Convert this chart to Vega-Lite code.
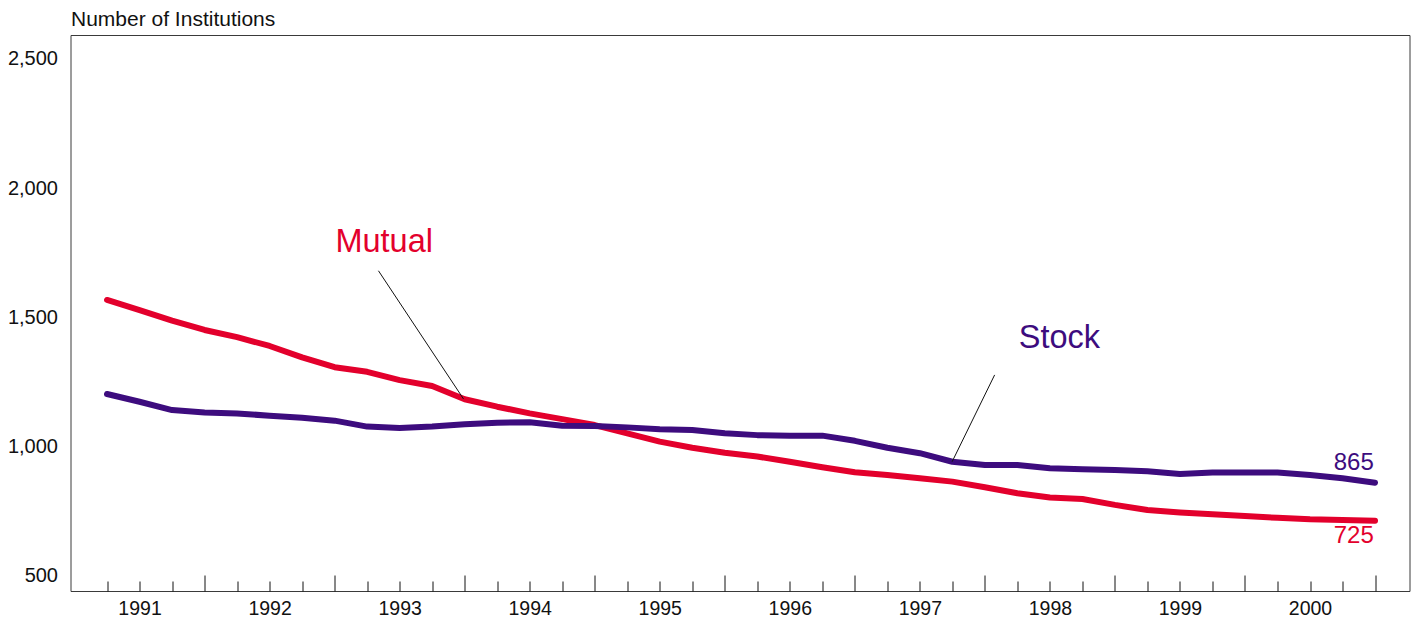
{
  "$schema": "https://vega.github.io/schema/vega-lite/v6.json",
  "width": 1339,
  "height": 556,
  "autosize": {"type": "none"},
  "padding": {"left": 70.5, "top": 35, "right": 4.5, "bottom": 27},
  "background": "white",
  "config": {
    "view": {"stroke": "#3a3a3a", "strokeWidth": 1},
    "font": "Liberation Sans",
    "axis": {"labelFont": "Liberation Sans", "titleFont": "Liberation Sans", "labelColor": "#111", "titleColor": "#111"}
  },
  "datasets": {
    "lines": [
      {"t": 1991.25, "series": "Mutual", "v": 1567}, {"t": 1991.5, "series": "Mutual", "v": 1528},
      {"t": 1991.75, "series": "Mutual", "v": 1487}, {"t": 1992, "series": "Mutual", "v": 1451},
      {"t": 1992.25, "series": "Mutual", "v": 1423}, {"t": 1992.5, "series": "Mutual", "v": 1389},
      {"t": 1992.75, "series": "Mutual", "v": 1345}, {"t": 1993, "series": "Mutual", "v": 1307},
      {"t": 1993.25, "series": "Mutual", "v": 1289}, {"t": 1993.5, "series": "Mutual", "v": 1257},
      {"t": 1993.75, "series": "Mutual", "v": 1234}, {"t": 1994, "series": "Mutual", "v": 1183},
      {"t": 1994.25, "series": "Mutual", "v": 1154}, {"t": 1994.5, "series": "Mutual", "v": 1128},
      {"t": 1994.75, "series": "Mutual", "v": 1106}, {"t": 1995, "series": "Mutual", "v": 1083},
      {"t": 1995.25, "series": "Mutual", "v": 1051}, {"t": 1995.5, "series": "Mutual", "v": 1019},
      {"t": 1995.75, "series": "Mutual", "v": 995}, {"t": 1996, "series": "Mutual", "v": 976},
      {"t": 1996.25, "series": "Mutual", "v": 961}, {"t": 1996.5, "series": "Mutual", "v": 941},
      {"t": 1996.75, "series": "Mutual", "v": 920}, {"t": 1997, "series": "Mutual", "v": 900},
      {"t": 1997.25, "series": "Mutual", "v": 890}, {"t": 1997.5, "series": "Mutual", "v": 877},
      {"t": 1997.75, "series": "Mutual", "v": 864}, {"t": 1998, "series": "Mutual", "v": 842},
      {"t": 1998.25, "series": "Mutual", "v": 819}, {"t": 1998.5, "series": "Mutual", "v": 803},
      {"t": 1998.75, "series": "Mutual", "v": 797}, {"t": 1999, "series": "Mutual", "v": 774},
      {"t": 1999.25, "series": "Mutual", "v": 754}, {"t": 1999.5, "series": "Mutual", "v": 745},
      {"t": 1999.75, "series": "Mutual", "v": 738}, {"t": 2000, "series": "Mutual", "v": 731},
      {"t": 2000.25, "series": "Mutual", "v": 724}, {"t": 2000.5, "series": "Mutual", "v": 718},
      {"t": 2000.75, "series": "Mutual", "v": 716}, {"t": 2001, "series": "Mutual", "v": 713},
      {"t": 1991.25, "series": "Stock", "v": 1203}, {"t": 1991.5, "series": "Stock", "v": 1173},
      {"t": 1991.75, "series": "Stock", "v": 1141}, {"t": 1992, "series": "Stock", "v": 1132},
      {"t": 1992.25, "series": "Stock", "v": 1128}, {"t": 1992.5, "series": "Stock", "v": 1119},
      {"t": 1992.75, "series": "Stock", "v": 1111}, {"t": 1993, "series": "Stock", "v": 1100},
      {"t": 1993.25, "series": "Stock", "v": 1077}, {"t": 1993.5, "series": "Stock", "v": 1072},
      {"t": 1993.75, "series": "Stock", "v": 1077}, {"t": 1994, "series": "Stock", "v": 1086},
      {"t": 1994.25, "series": "Stock", "v": 1092}, {"t": 1994.5, "series": "Stock", "v": 1094},
      {"t": 1994.75, "series": "Stock", "v": 1080}, {"t": 1995, "series": "Stock", "v": 1079},
      {"t": 1995.25, "series": "Stock", "v": 1074}, {"t": 1995.5, "series": "Stock", "v": 1067},
      {"t": 1995.75, "series": "Stock", "v": 1064}, {"t": 1996, "series": "Stock", "v": 1051},
      {"t": 1996.25, "series": "Stock", "v": 1044}, {"t": 1996.5, "series": "Stock", "v": 1042},
      {"t": 1996.75, "series": "Stock", "v": 1042}, {"t": 1997, "series": "Stock", "v": 1022},
      {"t": 1997.25, "series": "Stock", "v": 995}, {"t": 1997.5, "series": "Stock", "v": 974},
      {"t": 1997.75, "series": "Stock", "v": 941}, {"t": 1998, "series": "Stock", "v": 928},
      {"t": 1998.25, "series": "Stock", "v": 928}, {"t": 1998.5, "series": "Stock", "v": 916},
      {"t": 1998.75, "series": "Stock", "v": 912}, {"t": 1999, "series": "Stock", "v": 909},
      {"t": 1999.25, "series": "Stock", "v": 904}, {"t": 1999.5, "series": "Stock", "v": 894},
      {"t": 1999.75, "series": "Stock", "v": 899}, {"t": 2000, "series": "Stock", "v": 899},
      {"t": 2000.25, "series": "Stock", "v": 899}, {"t": 2000.5, "series": "Stock", "v": 890},
      {"t": 2000.75, "series": "Stock", "v": 877}, {"t": 2001, "series": "Stock", "v": 860}
    ],
    "leaders": [
      {"series": "Mutual", "t": 1993.337, "v": 1680, "t2": 1993.991, "v2": 1184},
      {"series": "Stock", "t": 1998.075, "v": 1277, "t2": 1997.748, "v2": 941}
    ],
    "names": [
      {"series": "Mutual", "label": "Mutual", "t": 1993.381, "v": 1754},
      {"series": "Stock", "label": "Stock", "t": 1998.573, "v": 1380}
    ],
    "ends": [
      {"series": "Stock", "label": "865", "t": 2000.99, "v": 909},
      {"series": "Mutual", "label": "725", "t": 2000.99, "v": 625}
    ]
  },
  "encoding": {
    "y": {
      "field": "v", "type": "quantitative",
      "scale": {"domain": [440.8, 2592.4], "nice": false, "zero": false},
      "axis": {
        "values": [500, 1000, 1500, 2000, 2500],
        "labelExpr": "format(datum.value, ',')",
        "ticks": false, "tickSize": 0, "domain": false, "grid": false,
        "labelFontSize": 20, "labelPadding": 13,
        "title": "Number of Institutions",
        "titleAngle": 0, "titleAlign": "left", "titleBaseline": "alphabetic",
        "titleX": 0, "titleY": -10, "titleFontSize": 21, "titleFontWeight": "normal"
      }
    }
  },
  "layer": [
    {
      "data": {"name": "lines"},
      "mark": {"type": "line", "strokeWidth": 6, "strokeCap": "round", "strokeJoin": "round"},
      "encoding": {
        "x": {
          "field": "t", "type": "quantitative",
          "scale": {"domain": [1990.969, 2001.265], "nice": false, "zero": false},
          "axis": {
            "orient": "bottom",
            "values": [1991.5, 1992.5, 1993.5, 1994.5, 1995.5, 1996.5, 1997.5, 1998.5, 1999.5, 2000.5],
            "labelExpr": "floor(datum.value)",
            "ticks": false, "tickSize": 0, "domain": false, "grid": false,
            "labelFontSize": 19.5, "labelPadding": 8, "title": null
          }
        },
        "color": {
          "field": "series", "type": "nominal",
          "scale": {"domain": ["Mutual", "Stock"], "range": ["#E3002C", "#3D0C7E"]},
          "legend": null
        },
        "detail": {"field": "series"}
      }
    },
    {
      "data": {"name": "leaders"},
      "mark": {"type": "rule", "color": "#111", "strokeWidth": 1},
      "encoding": {
        "x": {
          "field": "t", "type": "quantitative",
          "axis": {
            "orient": "bottom",
            "values": [1991.25, 1991.5, 1991.75, 1992, 1992.25, 1992.5, 1992.75, 1993, 1993.25, 1993.5, 1993.75, 1994, 1994.25, 1994.5, 1994.75, 1995, 1995.25, 1995.5, 1995.75, 1996, 1996.25, 1996.5, 1996.75, 1997, 1997.25, 1997.5, 1997.75, 1998, 1998.25, 1998.5, 1998.75, 1999, 1999.25, 1999.5, 1999.75, 2000, 2000.25, 2000.5, 2000.75, 2001],
            "labels": false, "domain": false, "grid": false, "title": null,
            "tickColor": "#111", "tickWidth": 1,
            "tickSize": {"condition": {"test": "datum.value % 1 == 0", "value": -16}, "value": -10}
          }
        },
        "x2": {"field": "t2"},
        "y2": {"field": "v2"}
      }
    },
    {
      "data": {"name": "names"},
      "mark": {"type": "text", "fontSize": 32.5, "align": "center", "baseline": "alphabetic", "font": "Liberation Sans"},
      "encoding": {
        "x": {"field": "t", "type": "quantitative", "axis": null},
        "text": {"field": "label"},
        "color": {"field": "series", "type": "nominal", "legend": null}
      }
    },
    {
      "data": {"name": "ends"},
      "mark": {"type": "text", "fontSize": 24, "align": "right", "baseline": "alphabetic", "font": "Liberation Sans"},
      "encoding": {
        "x": {"field": "t", "type": "quantitative", "axis": null},
        "text": {"field": "label"},
        "color": {"field": "series", "type": "nominal", "legend": null}
      }
    }
  ],
  "resolve": {"axis": {"x": "independent"}}
}
